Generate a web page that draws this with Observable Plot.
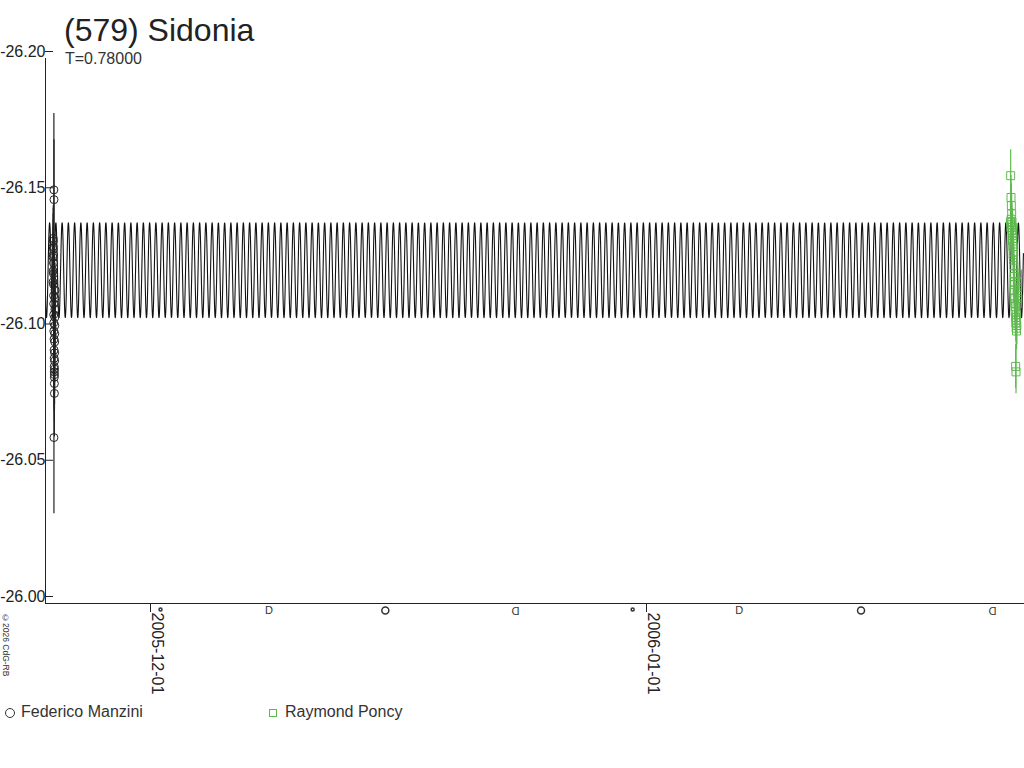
<!DOCTYPE html>
<html>
<head>
<meta charset="utf-8">
<script src="https://cdn.jsdelivr.net/npm/d3@7"></script>
<script src="https://cdn.jsdelivr.net/npm/@observablehq/plot@0.6"></script>
<style>
  body { margin: 0; background: #fff; font-family: "Liberation Sans", Arial, sans-serif; }
  #wrap { position: relative; width: 1024px; height: 768px; overflow: hidden; background: #fff; }
  #chart { position: absolute; left: 0; top: 0; }
  .t { position: absolute; color: #222; white-space: nowrap; line-height: 1; }
  .leg { position: absolute; top: 704px; font-size: 16px; color: #333; white-space: nowrap; line-height: 16px; display: flex; align-items: center; }
  .leg svg { margin-right: 3px; }
</style>
</head>
<body>
<div id="wrap">
  <div id="chart"></div>
  <div class="t" style="left:64px;top:14px;font-size:32px;">(579) Sidonia</div>
  <div class="t" style="left:65px;top:51px;font-size:16px;color:#333;">T=0.78000</div>
  <div class="t" style="left:1px;top:613px;font-size:8.5px;writing-mode:vertical-rl;color:#333;">©2026 CdG-RB</div>
  <div class="leg" style="left:4px;">
    <svg width="14" height="14"><circle cx="6" cy="8" r="4.5" fill="none" stroke="#333" stroke-width="1"/></svg>Federico Manzini
  </div>
  <div class="leg" style="left:268px;">
    <svg width="14" height="14"><rect x="1.5" y="4.5" width="7" height="7" fill="none" stroke="#5fba4f" stroke-width="1"/></svg>Raymond Poncy
  </div>
</div>
<script>
// ---------------- data ----------------
const xDomain = ["2005-11-24T10:30:00Z", "2006-01-24T13:30:00Z"];
const yDomain = [-26.20, -26.00];
const yTicks = [-26.20, -26.15, -26.10, -26.05, -26.00];
const xTicks = ["2005-12-01T00:00:00Z", "2006-01-01T00:00:00Z"];

// Federico Manzini: hours after 2005-11-24 19:00 UTC, magnitude, error
const manziniStart = "2005-11-24T19:00:00Z";
const manziniHours = [2.80,2.88,2.96,3.04,3.12,3.20,3.28,3.36,3.44,3.52,3.60,3.68,3.76,3.84,3.92,4.00,4.08,4.16,4.24,4.32,4.40,4.48,4.56,4.64,4.72,4.80,4.88,4.96,5.04,5.12,5.20,5.28,5.36,5.44,5.52,5.60,5.68,5.76];
const manziniMag = [-26.118,-26.122,-26.127,-26.131,-26.134,-26.133,-26.130,-26.128,-26.125,-26.121,-26.117,-26.113,-26.110,-26.106,-26.103,-26.100,-26.1518,-26.0609,-26.1482,-26.097,-26.093,-26.090,-26.087,-26.085,-26.083,-26.0807,-26.0771,-26.084,-26.086,-26.089,-26.092,-26.096,-26.099,-26.102,-26.105,-26.108,-26.112,-26.115];
const manziniErr = [0.010,0.010,0.011,0.012,0.012,0.012,0.011,0.011,0.010,0.010,0.010,0.009,0.009,0.009,0.010,0.010,0.028,0.028,0.022,0.011,0.011,0.012,0.012,0.013,0.013,0.014,0.016,0.013,0.013,0.012,0.011,0.011,0.010,0.010,0.010,0.010,0.010,0.010];

// Raymond Poncy: hours after 2006-01-23 18:00 UTC, magnitude, error
const poncyStart = "2006-01-23T18:00:00Z";
const poncyHours = [0.0,0.25,0.5,0.75,1.0,1.25,1.5,1.75,2.0,2.25,2.5,2.75,3.0,3.25,3.5,3.75,4.0,4.25,4.5,4.75,5.0,5.25,5.5,5.75,6.0,6.25,6.5,6.75,7.0,7.25,7.5,7.75,8.0,8.25,8.5,8.75,9.0,9.25,9.5,9.75,10.0,10.25,10.5,10.75,11.0];
const poncyMag = [-26.140,-26.157,-26.138,-26.149,-26.141,-26.146,-26.139,-26.143,-26.137,-26.140,-26.135,-26.138,-26.133,-26.136,-26.131,-26.134,-26.128,-26.131,-26.126,-26.129,-26.124,-26.121,-26.118,-26.120,-26.115,-26.117,-26.112,-26.110,-26.107,-26.109,-26.105,-26.087,-26.103,-26.085,-26.101,-26.104,-26.100,-26.106,-26.102,-26.110,-26.114,-26.118,-26.121,-26.116,-26.112];
const poncyErr = [0.007,0.0095,0.007,0.008,0.007,0.008,0.007,0.007,0.007,0.007,0.007,0.007,0.007,0.007,0.007,0.007,0.007,0.007,0.007,0.007,0.007,0.007,0.007,0.007,0.007,0.007,0.007,0.007,0.007,0.007,0.007,0.008,0.007,0.008,0.007,0.007,0.007,0.007,0.007,0.007,0.007,0.007,0.007,0.007,0.007];

// Fitted light-curve model (parameters)
const fitEpoch = "2005-11-24T12:00:00Z";
const fitPeriodHours = 9.375;
const fitMean = -26.1223;
const fitAmplitude = 0.0174;

// Moon phases shown under the time axis
const moonDates = ["2005-12-01T15:01:00Z","2005-12-08T09:36:00Z","2005-12-15T16:15:00Z","2005-12-23T19:36:00Z","2005-12-31T03:12:00Z","2006-01-06T18:56:00Z","2006-01-14T09:48:00Z","2006-01-22T15:14:00Z"];
const moonPhases = ["new","first","full","last","new","first","full","last"];

// ---------------- build tables ----------------
const H = 3600e3, D = 864e5;
const manzini = manziniHours.map((h, i) => ({date: new Date(+new Date(manziniStart) + h * H), mag: manziniMag[i], err: manziniErr[i]}));
const poncy = poncyHours.map((h, i) => ({date: new Date(+new Date(poncyStart) + h * H), mag: poncyMag[i], err: poncyErr[i]}));

const t0 = +new Date(xDomain[0]), t1 = +new Date(xDomain[1]), te = +new Date(fitEpoch);
const P = fitPeriodHours * H;
const fit = [];
for (let t = t0; t <= t1; t += 0.01 * D) {
  fit.push({date: new Date(t), mag: fitMean + fitAmplitude * Math.cos(2 * Math.PI * (t - te) / P)});
}
const moons = moonDates.map((d, i) => ({date: new Date(d), phase: moonPhases[i]}));
const green = "#5fba4f";
const xTickDates = xTicks.map(d => new Date(d));

const chart = Plot.plot({
  width: 1024,
  height: 768,
  marginLeft: 45,
  marginRight: 1,
  marginTop: 58,
  marginBottom: 165,
  style: {fontFamily: "'Liberation Sans', Arial, sans-serif", fontSize: "16px", color: "#222", background: "#fff"},
  x: {type: "utc", domain: xDomain.map(d => new Date(d))},
  y: {domain: yDomain, reverse: true},
  marks: [
    Plot.axisY({ticks: yTicks, tickFormat: d => d.toFixed(2), tickSize: 8, tickPadding: 0, dx: 8, dy: -7, fontSize: 16, label: null}),
    // x tick marks
    Plot.axisX({ticks: xTickDates, tickFormat: () => "", tickSize: 9, label: null}),
    // x tick labels, rotated, just right of the tick
    Plot.axisX({ticks: xTickDates, tickFormat: d3.utcFormat("%Y-%m-%d"), tickSize: 0, tickPadding: 9, tickRotate: 90, dx: 7, fontSize: 16, label: null}),
    Plot.line(fit, {x: "date", y: "mag", stroke: "#111", strokeWidth: 1.1}),
    Plot.ruleX(manzini, {x: "date", y1: d => d.mag - d.err, y2: d => d.mag + d.err, stroke: "#222", strokeWidth: 1.2}),
    Plot.dot(manzini, {x: "date", y: "mag", r: 4, stroke: "#222", fill: "none", strokeWidth: 1}),
    Plot.ruleX(poncy, {x: "date", y1: d => d.mag - d.err, y2: d => d.mag + d.err, stroke: green, strokeWidth: 1.2}),
    Plot.dot(poncy, {x: "date", y: "mag", r: 4.5, symbol: "square", stroke: green, fill: "none", strokeWidth: 1}),
    Plot.frame({anchor: "left", stroke: "#222"}),
    Plot.frame({anchor: "bottom", stroke: "#222"}),
    // moon phases
    Plot.dot(moons.filter(d => d.phase === "new"), {x: "date", frameAnchor: "bottom", dy: 6, r: 1.5, stroke: "#333", fill: "none"}),
    Plot.dot(moons.filter(d => d.phase === "full"), {x: "date", frameAnchor: "bottom", dy: 7, r: 3.5, stroke: "#333", fill: "none"}),
    Plot.text(moons.filter(d => d.phase === "first"), {x: "date", frameAnchor: "bottom", lineAnchor: "middle", dy: 7, text: () => "D", fontSize: 11, fill: "#333"}),
    Plot.text(moons.filter(d => d.phase === "last"), {x: "date", frameAnchor: "bottom", lineAnchor: "middle", dy: 7, text: () => "D", rotate: 180, fontSize: 11, fill: "#333"})
  ]
});
document.getElementById("chart").appendChild(chart);
</script>
</body>
</html>
